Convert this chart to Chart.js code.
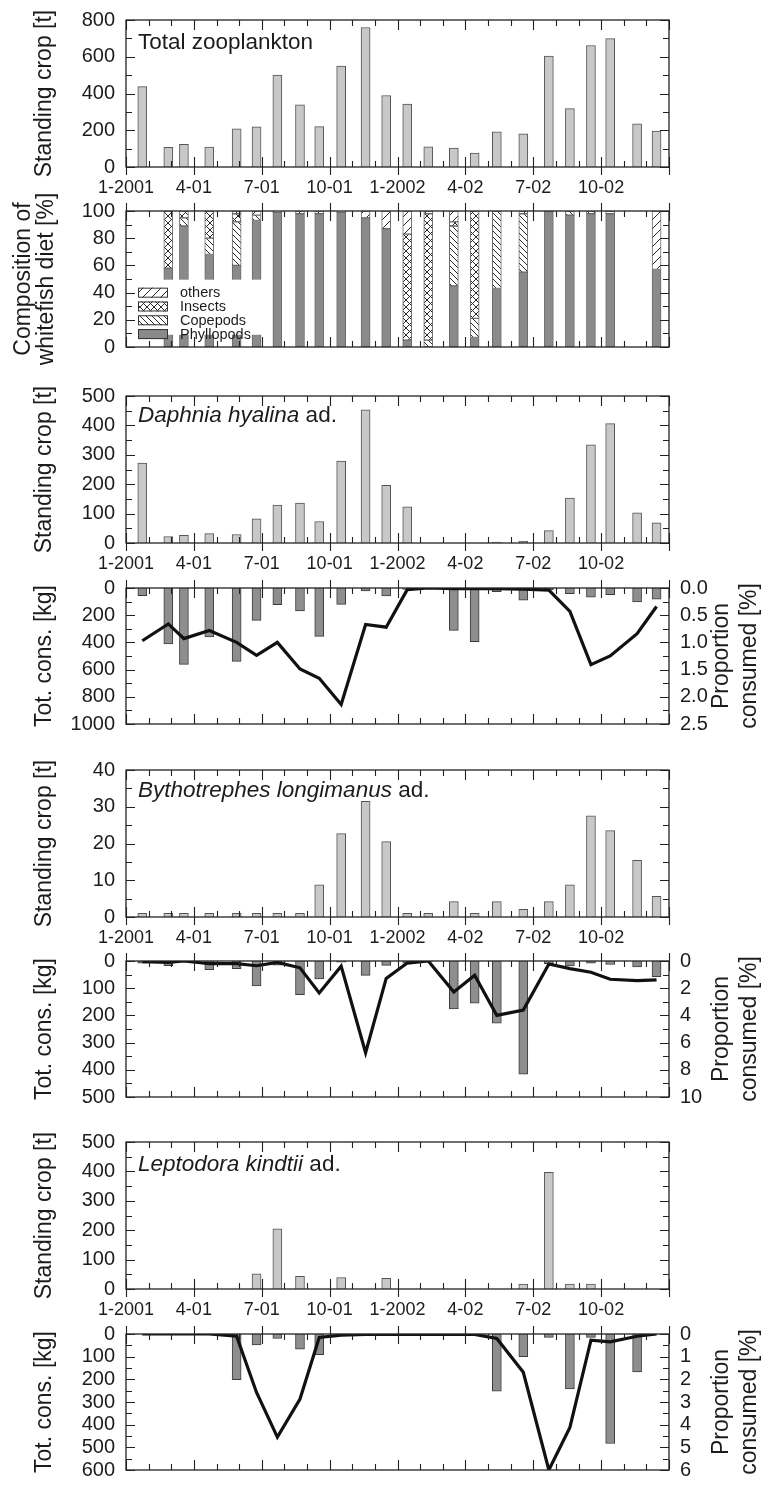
<!DOCTYPE html>
<html>
<head>
<meta charset="utf-8">
<script src="https://cdn.jsdelivr.net/npm/chart.js@4.4.1/dist/chart.umd.min.js"></script>
<style>
  html, body { margin: 0; padding: 0; background: #fff; }
  body { width: 765px; height: 1488px; position: relative; overflow: hidden; }
  canvas { position: absolute; left: 0; }
</style>
</head>
<body>
<canvas id="p1"></canvas>
<canvas id="p2"></canvas>
<canvas id="p3"></canvas>
<canvas id="p4"></canvas>
<canvas id="p5"></canvas>
<canvas id="p6"></canvas>
<canvas id="p7"></canvas>
<canvas id="p8"></canvas>
<script>
// Sampling dates, in months counted from 1 January 2001
const sampleMonths = [0.72, 1.87, 2.56, 3.68, 4.89, 5.77, 6.69, 7.69, 8.54, 9.51, 10.59, 11.50,
                      12.43, 13.36, 14.49, 15.41, 16.39, 17.56, 18.69, 19.62, 20.55, 21.40, 22.59, 23.45];
const quarterLabels = ['1-2001', '4-01', '7-01', '10-01', '1-2002', '4-02', '7-02', '10-02'];

// Standing crop of total zooplankton [t]
const totalZooplankton = [437, 107, 124, 108, 208, 219, 500, 338, 220, 549, 759, 389,
                          343, 110, 103, 76, 192, 181, 604, 318, 661, 699, 235, 196];

// Composition of whitefish diet [%] (null = no fish sampled)
const dietPhyllopods = [null, 58, 89, 68, 60, 93, 99, 98, 98, 99, 95, 87, 5, 0, 45, 7, 43, 55, 100, 97, 98, 98, null, 57];
const dietCopepods   = [null, 0, 6, 12, 32, 4, 0, 0, 2, 0, 0, 0, 0, 5, 44, 14, 57, 43, 0, 3, 2, 0, null, 0];
const dietInsects    = [null, 42, 5, 20, 6, 0, 0, 0, 0, 0, 0, 0, 78, 93, 3, 79, 0, 0, 0, 0, 0, 0, null, 0];
const dietOthers     = [null, 0, 0, 0, 2, 3, 1, 2, 0, 1, 5, 13, 17, 2, 8, 0, 0, 2, 0, 0, 0, 2, null, 43];

// Daphnia hyalina adults
const daphniaCrop = [272, 22, 26, 32, 29, 82, 129, 136, 73, 279, 453, 196, 123, 0, 0, 0, 3, 6, 42, 153, 334, 406, 103, 69];
const daphniaCons = [56, 411, 562, 360, 540, 238, 122, 169, 356, 120, 22, 58, 10, 3, 312, 395, 27, 89, 15, 42, 67, 49, 103, 83];
const daphniaProp = [0.97, 0.66, 0.93, 0.78, 1.0, 1.24, 1.0, 1.49, 1.66, 2.14, 0.67, 0.72,
                     0.03, 0.0, 0.01, 0.01, 0.01, 0.02, 0.04, 0.43, 1.41, 1.25, 0.84, 0.34];

// Bythotrephes longimanus adults
const bythoCrop = [1, 1, 1, 1, 1, 1, 1, 1, 8.75, 22.7, 31.5, 20.5, 1, 1, 4.2, 1, 4.2, 2.1, 4.2, 8.75, 27.5, 23.5, 15.4, 5.6];
const bythoCons = [8, 17, 0, 32, 28, 92, 15, 124, 66, 4, 53, 16, 8, 2, 176, 155, 229, 416, 10, 18, 8, 13, 22, 58];
const bythoProp = [0.05, 0.1, 0.0, 0.2, 0.2, 0.35, 0.1, 0.5, 2.35, 0.38, 6.75, 1.28,
                   0.15, 0.0, 2.28, 1.05, 4.0, 3.6, 0.22, 0.56, 0.83, 1.34, 1.45, 1.39];

// Leptodora kindtii adults
const leptoCrop = [0, 0, 0, 0, 0, 52, 205, 43, 0, 39, 0, 36, 0, 0, 0, 0, 0, 17, 397, 17, 17, 0, 0, 0];
const leptoCons = [0, 0, 0, 0, 201, 48, 20, 67, 91, 0, 0, 0, 0, 0, 0, 0, 252, 100, 15, 242, 15, 483, 167, 0];
const leptoProp = [0, 0, 0, 0, 0.1, 2.58, 4.55, 2.87, 0.15, 0.05, 0.02, 0.02,
                   0.02, 0.02, 0.02, 0.02, 0.2, 1.69, 6.0, 4.12, 0.27, 0.35, 0.1, 0];

// ---------------------------------------------------------------------------
const W = 765, PLOT_LEFT = 126, PLOT_RIGHT = 669, PLOT_H = 150, PAD_TOP = 20;
const INK = '#1c1c1c';
const FONT = "'Liberation Sans', Arial, Helvetica, sans-serif";
const LIGHT_BAR = '#c8c8c8', DARK_BAR = '#8e8e8e';

Chart.defaults.font.family = FONT;
Chart.defaults.color = INK;

const isMultiple = (v, m) => Math.abs(v / m - Math.round(v / m)) < 1e-6;

function barPoints(values) {
  return sampleMonths.map((m, i) => ({ x: m, y: values[i] }))
    .filter(p => p.y !== null && p.y > 0);
}
function linePoints(values) {
  return sampleMonths.map((m, i) => ({ x: m, y: values[i] }));
}

function hatch(kind) {
  const s = kind === 'others' ? 9 : (kind === 'copepods' ? 6 : 7);
  const c = document.createElement('canvas');
  c.width = s; c.height = s;
  const g = c.getContext('2d');
  g.fillStyle = '#fff'; g.fillRect(0, 0, s, s);
  g.strokeStyle = '#2a2a2a'; g.lineWidth = 1;
  const fwd = () => {
    g.beginPath();
    g.moveTo(-1, s + 1); g.lineTo(s + 1, -1);
    g.moveTo(-1, 1); g.lineTo(1, -1);
    g.moveTo(s - 1, s + 1); g.lineTo(s + 1, s - 1);
    g.stroke();
  };
  const back = () => {
    g.beginPath();
    g.moveTo(-1, -1); g.lineTo(s + 1, s + 1);
    g.moveTo(s - 1, -1); g.lineTo(s + 1, 1);
    g.moveTo(-1, s - 1); g.lineTo(1, s + 1);
    g.stroke();
  };
  if (kind === 'others') fwd();
  if (kind === 'copepods') back();
  if (kind === 'insects') { fwd(); back(); }
  return g.createPattern(c, 'repeat');
}

// Frame plus inward tick marks on all four sides, taken from the chart's scales
const frameTicks = {
  id: 'frameTicks',
  afterDraw(chart, args, o) {
    const { ctx, chartArea: a } = chart;
    const xs = chart.scales.x, ys = chart.scales.y;
    ctx.save();
    ctx.strokeStyle = '#222';
    ctx.lineWidth = 1.3;
    ctx.strokeRect(a.left, a.top, a.right - a.left, a.bottom - a.top);
    ctx.beginPath();
    ctx.lineWidth = 1.1;
    xs.ticks.forEach(t => {
      const px = Math.round(xs.getPixelForValue(t.value)) + 0.5;
      const major = isMultiple(t.value, 3);
      const len = major ? 10 : 6;
      ctx.moveTo(px, a.bottom); ctx.lineTo(px, a.bottom - len);
      ctx.moveTo(px, a.top); ctx.lineTo(px, a.top + len);
      if (major && o.outward === 'bottom') { ctx.moveTo(px, a.bottom); ctx.lineTo(px, a.bottom + 8); }
      if (major && o.outward === 'top') { ctx.moveTo(px, a.top); ctx.lineTo(px, a.top - 8); }
    });
    ys.ticks.forEach(t => {
      const py = Math.round(ys.getPixelForValue(t.value)) + 0.5;
      const len = isMultiple(t.value, o.yMajor) ? 9 : 6;
      ctx.moveTo(a.left, py); ctx.lineTo(a.left + len, py);
      ctx.moveTo(a.right, py); ctx.lineTo(a.right - len, py);
    });
    ctx.stroke();
    ctx.restore();
  }
};

// Species / group name written inside the plot
const panelLabel = {
  id: 'panelLabel',
  afterDraw(chart, args, o) {
    if (!o.parts) return;
    const { ctx, chartArea: a } = chart;
    ctx.save();
    ctx.fillStyle = INK;
    ctx.textBaseline = 'middle';
    ctx.textAlign = 'left';
    let x = a.left + 12;
    const y = a.top + o.dy;
    o.parts.forEach(p => {
      ctx.font = (p.italic ? 'italic ' : '') + '22.5px ' + FONT;
      ctx.fillText(p.text, x, y);
      x += ctx.measureText(p.text).width;
    });
    ctx.restore();
  }
};

// Right-hand axis title, reading upwards like the left one
const rightTitle = {
  id: 'rightTitle',
  afterDraw(chart, args, o) {
    if (!o.lines) return;
    const { ctx, chartArea: a } = chart;
    const cy = (a.top + a.bottom) / 2;
    ctx.save();
    ctx.fillStyle = INK;
    ctx.font = '23px ' + FONT;
    ctx.textAlign = 'center';
    ctx.textBaseline = 'middle';
    o.lines.forEach((line, i) => {
      ctx.save();
      ctx.translate(o.xs[i], cy);
      ctx.rotate(-Math.PI / 2);
      ctx.fillText(line, 0, 0);
      ctx.restore();
    });
    ctx.restore();
  }
};

// Diet legend on a white box inside the composition panel
const dietLegend = {
  id: 'dietLegend',
  afterDatasetsDraw(chart) {
    const { ctx, chartArea: a } = chart;
    const ys = chart.scales.y;
    const top = ys.getPixelForValue(49.5), bottom = ys.getPixelForValue(9);
    ctx.save();
    ctx.fillStyle = '#fff';
    ctx.fillRect(a.left + 1, top, 140, bottom - top);
    const entries = chart.data.datasets.slice().reverse();
    ctx.font = '14.5px ' + FONT;
    ctx.textBaseline = 'middle';
    ctx.textAlign = 'left';
    entries.forEach((ds, i) => {
      const cy = top + 13 + i * 13.8;
      ctx.fillStyle = ds.backgroundColor;
      ctx.fillRect(a.left + 12, cy - 5, 30, 10);
      ctx.strokeStyle = '#333';
      ctx.lineWidth = 1;
      ctx.strokeRect(a.left + 12.5, cy - 4.5, 29, 9);
      ctx.fillStyle = INK;
      ctx.fillText(ds.label, a.left + 54, cy + 0.5);
    });
    ctx.restore();
  }
};

function xAxis(showLabels, stacked) {
  return {
    type: 'linear', position: 'bottom', min: 0, max: 24, offset: false, stacked: !!stacked,
    grid: { display: false, drawTicks: false }, border: { display: false },
    ticks: {
      display: showLabels, stepSize: 1, autoSkip: false, maxTicksLimit: 100,
      maxRotation: 0, minRotation: 0, padding: 10, color: INK, font: { size: 18 },
      callback: v => (isMultiple(v, 3) && v < 24) ? quarterLabels[Math.round(v / 3)] : ''
    },
    afterFit: s => { s.height = showLabels ? 34 : 0; }
  };
}

function yAxis(max, step, major, title, o = {}) {
  return {
    type: 'linear', position: 'left', min: 0, max, reverse: !!o.reverse, stacked: !!o.stacked,
    grid: { display: false, drawTicks: false }, border: { display: false },
    ticks: {
      stepSize: step, autoSkip: false, maxTicksLimit: 100, padding: 11, color: INK, font: { size: 20 },
      callback: v => isMultiple(v, major) ? String(Math.round(v)) : ''
    },
    title: {
      display: true, text: title, color: INK,
      font: { size: 23, lineHeight: o.titleLH || 1.2 },
      padding: { top: o.titlePad !== undefined ? o.titlePad : 31, bottom: 0 }
    },
    afterFit: s => { s.width = PLOT_LEFT; }
  };
}

function rightAxis(max, step, fmt) {
  return {
    type: 'linear', position: 'right', min: 0, max, reverse: true,
    grid: { display: false, drawTicks: false }, border: { display: false },
    ticks: { stepSize: step, autoSkip: false, maxTicksLimit: 100, padding: 11, color: INK, font: { size: 20 }, callback: fmt },
    afterFit: s => { s.width = W - PLOT_RIGHT; }
  };
}

function panel(id, top, showLabels, datasets, scales, pluginOpts, extra) {
  const cv = document.getElementById(id);
  const below = showLabels ? 40 : 12;
  const h = PAD_TOP + PLOT_H + below;
  cv.width = W; cv.height = h;
  cv.style.width = W + 'px'; cv.style.height = h + 'px';
  cv.style.top = (top - PAD_TOP) + 'px';
  return new Chart(cv, {
    type: 'bar',
    data: { datasets },
    options: {
      responsive: false, animation: false, devicePixelRatio: 1,
      events: [],
      layout: { padding: { top: PAD_TOP, bottom: showLabels ? below - 34 : below, left: 0, right: scales.y2 ? 0 : W - PLOT_RIGHT } },
      scales,
      plugins: Object.assign({ legend: { display: false }, tooltip: { enabled: false } }, pluginOpts)
    },
    plugins: [frameTicks, panelLabel, rightTitle].concat(extra || [])
  });
}

function cropBars(label, values) {
  return { label, data: barPoints(values), backgroundColor: LIGHT_BAR, borderColor: '#555', borderWidth: 1, barThickness: 9 };
}
function consBars(label, values) {
  return { label, data: barPoints(values), backgroundColor: DARK_BAR, borderColor: '#3c3c3c', borderWidth: 1, barThickness: 9, order: 1, yAxisID: 'y' };
}
function propLine(label, values) {
  return { type: 'line', label, data: linePoints(values), borderColor: '#111', borderWidth: 3.2, pointRadius: 0, tension: 0, order: 0, yAxisID: 'y2' };
}
const proportionTitle = { lines: ['Proportion', 'consumed [%]'], xs: [722, 750] };

// 1: total zooplankton
panel('p1', 17, true,
  [cropBars('Total zooplankton', totalZooplankton)],
  { x: xAxis(true), y: yAxis(800, 100, 200, 'Standing crop [t]') },
  { frameTicks: { outward: 'bottom', yMajor: 200 }, panelLabel: { parts: [{ text: 'Total zooplankton' }], dy: 23 } });

// 2: whitefish diet composition
const segment = (label, values, fill) => ({
  label, data: barPoints(values), backgroundColor: fill, borderColor: '#6a6a6a', borderWidth: 1,
  borderSkipped: false, barThickness: 9
});
panel('p2', 208, false,
  [
    segment('Phyllopods', dietPhyllopods, '#8a8a8a'),
    segment('Copepods', dietCopepods, hatch('copepods')),
    segment('Insects', dietInsects, hatch('insects')),
    segment('others', dietOthers, hatch('others'))
  ],
  { x: xAxis(false, true), y: yAxis(100, 10, 20, ['Composition of', 'whitefish diet [%]'], { stacked: true, titleLH: 1.0, titlePad: 12.5 }) },
  { frameTicks: { outward: 'top', yMajor: 20 } },
  [dietLegend]);

// 3 + 4: Daphnia hyalina
panel('p3', 393, true,
  [cropBars('Daphnia hyalina', daphniaCrop)],
  { x: xAxis(true), y: yAxis(500, 50, 100, 'Standing crop [t]') },
  { frameTicks: { outward: 'bottom', yMajor: 100 },
    panelLabel: { parts: [{ text: 'Daphnia hyalina', italic: true }, { text: ' ad.' }], dy: 20 } });

panel('p4', 585, false,
  [propLine('Proportion consumed', daphniaProp), consBars('Total consumption', daphniaCons)],
  { x: xAxis(false), y: yAxis(1000, 100, 200, 'Tot. cons. [kg]', { reverse: true }),
    y2: rightAxis(2.5, 0.5, v => v.toFixed(1)) },
  { frameTicks: { outward: 'top', yMajor: 200 }, rightTitle: proportionTitle });

// 5 + 6: Bythotrephes longimanus
panel('p5', 767, true,
  [cropBars('Bythotrephes longimanus', bythoCrop)],
  { x: xAxis(true), y: yAxis(40, 5, 10, 'Standing crop [t]') },
  { frameTicks: { outward: 'bottom', yMajor: 10 },
    panelLabel: { parts: [{ text: 'Bythotrephes longimanus', italic: true }, { text: ' ad.' }], dy: 21 } });

panel('p6', 958, false,
  [propLine('Proportion consumed', bythoProp), consBars('Total consumption', bythoCons)],
  { x: xAxis(false), y: yAxis(500, 50, 100, 'Tot. cons. [kg]', { reverse: true }),
    y2: rightAxis(10, 2, v => String(Math.round(v))) },
  { frameTicks: { outward: 'top', yMajor: 100 }, rightTitle: proportionTitle });

// 7 + 8: Leptodora kindtii
panel('p7', 1139, true,
  [cropBars('Leptodora kindtii', leptoCrop)],
  { x: xAxis(true), y: yAxis(500, 50, 100, 'Standing crop [t]') },
  { frameTicks: { outward: 'bottom', yMajor: 100 },
    panelLabel: { parts: [{ text: 'Leptodora kindtii', italic: true }, { text: ' ad.' }], dy: 23 } });

panel('p8', 1331, false,
  [propLine('Proportion consumed', leptoProp), consBars('Total consumption', leptoCons)],
  { x: xAxis(false), y: yAxis(600, 50, 100, 'Tot. cons. [kg]', { reverse: true }),
    y2: rightAxis(6, 1, v => String(Math.round(v))) },
  { frameTicks: { outward: 'top', yMajor: 100 }, rightTitle: proportionTitle });
</script>
</body>
</html>
